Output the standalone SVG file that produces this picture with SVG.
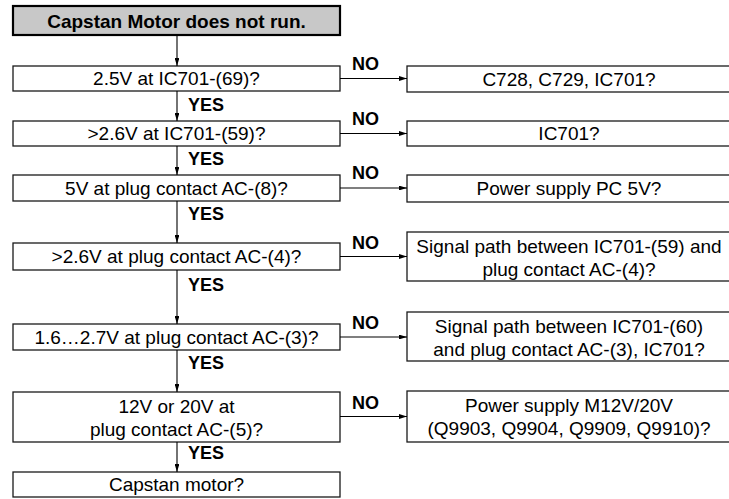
<svg xmlns="http://www.w3.org/2000/svg" width="729" height="499" viewBox="0 0 729 499">
<style>
.box{fill:#fff;stroke:#1a1a1a;stroke-width:1.3}
.title{fill:#c8c8c8;stroke:#000;stroke-width:2.2}
.t{font-family:"Liberation Sans",Arial,sans-serif;font-size:19px;fill:#000;text-anchor:middle}
.tb{font-family:"Liberation Sans",Arial,sans-serif;font-size:19px;font-weight:bold;fill:#000;text-anchor:middle}
.lb{font-family:"Liberation Sans",Arial,sans-serif;font-size:18px;font-weight:bold;fill:#000}
.c{stroke:#000;stroke-width:1.1;fill:none;marker-end:url(#ah)}
</style>
<defs>
<marker id="ah" viewBox="0 0 10 6" refX="10" refY="3" markerWidth="8" markerHeight="4.8" markerUnits="userSpaceOnUse" orient="auto">
<path d="M0,0 L10,3 L0,6 z" fill="#000"/>
</marker>
</defs>
<rect width="729" height="499" fill="#fff"/>
<g id="n0"><rect class="title" x="13" y="6" width="327" height="29"/><text class="tb" x="176.5" y="27.5">Capstan Motor does not run.</text></g>
<g id="n1"><rect class="box" x="13" y="66" width="327" height="25"/><text class="t" x="176.5" y="85">2.5V at IC701-(69)?</text></g>
<g id="n2"><rect class="box" x="13" y="121" width="327" height="25"/><text class="t" x="176.5" y="140">&gt;2.6V at IC701-(59)?</text></g>
<g id="n3"><rect class="box" x="13" y="175" width="327" height="26"/><text class="t" x="176.5" y="194.5">5V at plug contact AC-(8)?</text></g>
<g id="n4"><rect class="box" x="13" y="243" width="327" height="27"/><text class="t" x="176.5" y="263">&gt;2.6V at plug contact AC-(4)?</text></g>
<g id="n5"><rect class="box" x="13" y="324" width="327" height="26"/><text class="t" x="176.5" y="343.5">1.6…2.7V at plug contact AC-(3)?</text></g>
<g id="n6"><rect class="box" x="13" y="392" width="327" height="50"/><text class="t" x="176.5" y="413">12V or 20V at</text><text class="t" x="176.5" y="436">plug contact AC-(5)?</text></g>
<g id="n7"><rect class="box" x="13" y="472" width="327" height="25"/><text class="t" x="176.5" y="491">Capstan motor?</text></g>
<g id="r1"><rect class="box" x="407" y="66" width="326" height="26"/><text class="t" x="569" y="85.5">C728, C729, IC701?</text></g>
<g id="r2"><rect class="box" x="407" y="121" width="326" height="25"/><text class="t" x="569" y="140">IC701?</text></g>
<g id="r3"><rect class="box" x="407" y="175" width="326" height="27"/><text class="t" x="569" y="195">Power supply PC 5V?</text></g>
<g id="r4"><rect class="box" x="407" y="232" width="326" height="49"/><text class="t" x="569" y="252.5">Signal path between IC701-(59) and</text><text class="t" x="569" y="275.5">plug contact AC-(4)?</text></g>
<g id="r5"><rect class="box" x="407" y="312" width="326" height="49"/><text class="t" x="569" y="333">Signal path between IC701-(60)</text><text class="t" x="569" y="355.5">and plug contact AC-(3), IC701?</text></g>
<g id="r6"><rect class="box" x="407" y="391" width="326" height="51"/><text class="t" x="569" y="412">Power supply M12V/20V</text><text class="t" x="569" y="435">(Q9903, Q9904, Q9909, Q9910)?</text></g>
<g id="connectors">
<path class="c" d="M177,35 V66"/>
<path class="c" d="M177,91 V121"/>
<path class="c" d="M177,146 V175"/>
<path class="c" d="M177,201 V243"/>
<path class="c" d="M177,270 V324"/>
<path class="c" d="M177,350 V392"/>
<path class="c" d="M177,442 V472"/>
<path class="c" d="M340,78.5 H407"/>
<path class="c" d="M340,133.5 H407"/>
<path class="c" d="M340,188 H407"/>
<path class="c" d="M340,256.5 H407"/>
<path class="c" d="M340,337 H407"/>
<path class="c" d="M340,416.5 H407"/>
<text class="lb" x="188" y="111">YES</text>
<text class="lb" x="188" y="165">YES</text>
<text class="lb" x="188" y="220">YES</text>
<text class="lb" x="188" y="291">YES</text>
<text class="lb" x="188" y="369">YES</text>
<text class="lb" x="188" y="459">YES</text>
<text class="lb" x="352" y="69.5">NO</text>
<text class="lb" x="352" y="124.5">NO</text>
<text class="lb" x="352" y="179">NO</text>
<text class="lb" x="352" y="248.5">NO</text>
<text class="lb" x="352" y="329">NO</text>
<text class="lb" x="352" y="408.5">NO</text>
</g>
</svg>
